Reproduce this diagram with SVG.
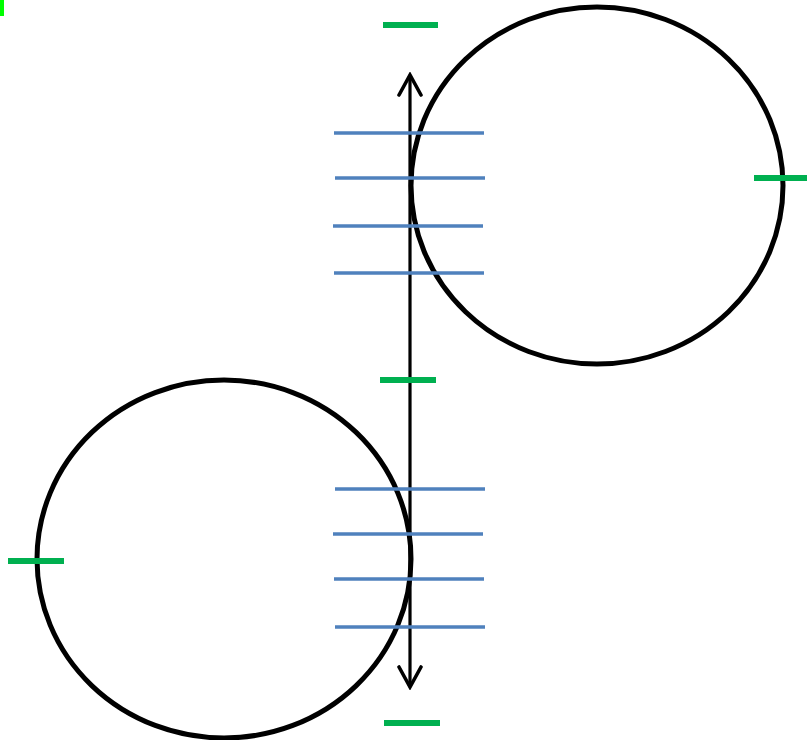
<svg xmlns="http://www.w3.org/2000/svg" width="807" height="740" viewBox="0 0 807 740">
<style>
.circ{fill:none;stroke:#000;stroke-width:5}
.blue{stroke:#4F81BD;stroke-width:3.5}
.green{stroke:#00B050;stroke-width:6}
.axis{stroke:#000;stroke-width:3.2;fill:none}
</style>
<defs>
<marker id="arr" viewBox="0 0 26 28" refX="23" refY="14" markerWidth="26" markerHeight="28" markerUnits="userSpaceOnUse" orient="auto-start-reverse">
<path d="M3,3 L23,14 L3,25" fill="none" stroke="#000" stroke-width="3.6" stroke-linecap="round" stroke-linejoin="miter"/>
</marker>
</defs>
<rect x="0" y="0" width="4" height="16" fill="#00FF00"/>
<g id="circle-top"><ellipse class="circ" cx="597" cy="185.5" rx="186" ry="178.5"/></g>
<g id="circle-bottom"><ellipse class="circ" cx="224" cy="559" rx="187" ry="179"/></g>
<g id="connectors">
<line class="axis" x1="410" y1="75" x2="410" y2="687" marker-start="url(#arr)" marker-end="url(#arr)"/>
</g>
<g id="blue-lines">
<line class="blue" x1="334" y1="133" x2="484" y2="133"/>
<line class="blue" x1="335" y1="178" x2="485" y2="178"/>
<line class="blue" x1="333" y1="226" x2="483" y2="226"/>
<line class="blue" x1="334" y1="273" x2="484" y2="273"/>
<line class="blue" x1="335" y1="489" x2="485" y2="489"/>
<line class="blue" x1="333" y1="534" x2="483" y2="534"/>
<line class="blue" x1="334" y1="579" x2="484" y2="579"/>
<line class="blue" x1="335" y1="627" x2="485" y2="627"/>
</g>
<g id="green-marks">
<line class="green" x1="383" y1="25" x2="438" y2="25"/>
<line class="green" x1="754" y1="178" x2="807" y2="178"/>
<line class="green" x1="380" y1="380" x2="436" y2="380"/>
<line class="green" x1="8" y1="561" x2="64" y2="561"/>
<line class="green" x1="384" y1="723" x2="440" y2="723"/>
</g>
</svg>
